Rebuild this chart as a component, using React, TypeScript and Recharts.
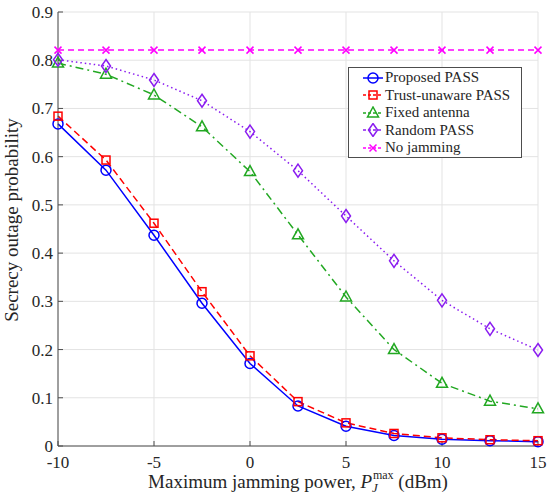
import React from "react";
import { LineChart, Line, XAxis, YAxis, CartesianGrid, Legend } from "recharts";

// jamming power levels (dBm)
const powerDbm = [-10, -7.5, -5, -2.5, 0, 2.5, 5, 7.5, 10, 12.5, 15];

// secrecy outage probability per scheme
const proposedPass = [0.668, 0.572, 0.437, 0.296, 0.171, 0.083, 0.041, 0.022, 0.014, 0.011, 0.009];
const trustUnawarePass = [0.684, 0.593, 0.462, 0.32, 0.187, 0.092, 0.048, 0.026, 0.017, 0.013, 0.011];
const fixedAntenna = [0.794, 0.771, 0.728, 0.662, 0.569, 0.438, 0.309, 0.2, 0.13, 0.093, 0.077];
const randomPass = [0.801, 0.788, 0.759, 0.716, 0.652, 0.571, 0.477, 0.384, 0.302, 0.243, 0.199];
const noJamming = [0.821, 0.821, 0.821, 0.821, 0.821, 0.821, 0.821, 0.821, 0.821, 0.821, 0.821];

const xTicks = [-10, -5, 0, 5, 10, 15];
const yTicks = [0, 0.1, 0.2, 0.3, 0.4, 0.5, 0.6, 0.7, 0.8, 0.9];

type MarkerKind = "circle" | "square" | "triangle" | "diamond" | "cross";

type SeriesDef = {
  key: string;
  name: string;
  color: string;
  dash?: string;
  marker: MarkerKind;
};

const SERIES: SeriesDef[] = [
  { key: "proposed", name: "Proposed PASS", color: "#0000ff", marker: "circle" },
  { key: "trustUnaware", name: "Trust-unaware PASS", color: "#ff0000", dash: "7 4", marker: "square" },
  { key: "fixed", name: "Fixed antenna", color: "#22a822", dash: "8 4 2 4", marker: "triangle" },
  { key: "random", name: "Random PASS", color: "#8a1cf0", dash: "1.5 3", marker: "diamond" },
  { key: "noJam", name: "No jamming", color: "#ff00ff", dash: "6 4", marker: "cross" },
];

const rows = powerDbm.map((x, i) => ({
  x,
  proposed: proposedPass[i],
  trustUnaware: trustUnawarePass[i],
  fixed: fixedAntenna[i],
  random: randomPass[i],
  noJam: noJamming[i],
}));

const FONT = "Liberation Serif, DejaVu Serif, serif";
const TEXT = "#262626";
const AXIS = "#4d4d4d";

function marker(kind: MarkerKind, cx: number, cy: number, color: string, key?: string) {
  const common = { fill: "none", stroke: color, strokeWidth: 1.5 };
  switch (kind) {
    case "circle":
      return <circle key={key} cx={cx} cy={cy} r={5} {...common} />;
    case "square":
      return <rect key={key} x={cx - 4} y={cy - 4} width={8} height={8} {...common} />;
    case "triangle":
      return (
        <polygon
          key={key}
          points={`${cx},${cy - 6} ${cx - 5.5},${cy + 4} ${cx + 5.5},${cy + 4}`}
          {...common}
        />
      );
    case "diamond":
      return (
        <polygon
          key={key}
          points={`${cx},${cy - 6.5} ${cx + 4.5},${cy} ${cx},${cy + 6.5} ${cx - 4.5},${cy}`}
          {...common}
        />
      );
    default:
      return (
        <path
          key={key}
          d={`M${cx - 3.5},${cy - 3.5}L${cx + 3.5},${cy + 3.5}M${cx - 3.5},${cy + 3.5}L${cx + 3.5},${cy - 3.5}`}
          {...common}
        />
      );
  }
}

function renderLegend() {
  return (
    <div
      style={{
        boxSizing: "border-box",
        width: 174,
        height: 91,
        border: `1px solid ${AXIS}`,
        background: "#fff",
        padding: "1px 0 0 14px",
        fontFamily: FONT,
        fontSize: 15,
        color: TEXT,
      }}
    >
      {SERIES.map((s) => (
        <div key={s.key} style={{ display: "flex", alignItems: "center", height: 17.5 }}>
          <svg width={20} height={14} style={{ marginRight: 2 }}>
            <line
              x1={0}
              y1={7}
              x2={20}
              y2={7}
              stroke={s.color}
              strokeWidth={1.5}
              strokeDasharray={s.dash ? "3 2" : undefined}
            />
            {marker(s.marker, 10, 7, s.color)}
          </svg>
          <span style={{ whiteSpace: "nowrap" }}>{s.name}</span>
        </div>
      ))}
    </div>
  );
}

function XLabel(props: any) {
  const { x, y, width } = props.viewBox;
  return (
    <text x={x + width / 2} y={y + 42} textAnchor="middle" fontFamily={FONT} fontSize={19} fill={TEXT}>
      Maximum jamming power,{" "}
      <tspan fontStyle="italic">P</tspan>
      <tspan fontStyle="italic" fontSize={13} dy={4}>
        J
      </tspan>
      <tspan fontSize={12} dx={-5} dy={-13}>
        max
      </tspan>
      <tspan dy={9}> (dBm)</tspan>
    </text>
  );
}

function YLabel() {
  return (
    <text
      x={17.5}
      y={220}
      transform="rotate(-90, 17.5, 220)"
      textAnchor="middle"
      fontFamily={FONT}
      fontSize={19}
      fill={TEXT}
    >
      Secrecy outage probability
    </text>
  );
}

const tickStyle = { fontFamily: FONT, fontSize: 17, fill: TEXT };

export default function App() {
  return (
    <div style={{ width: 550, height: 499, background: "#fff", fontFamily: FONT }}>
      <style>{"body{margin:0}"}</style>
      <LineChart width={550} height={499} data={rows} margin={{ top: 12, right: 12, bottom: 0, left: 0 }}>
        <CartesianGrid stroke="#e3e3e3" strokeWidth={1} />
        <XAxis
          dataKey="x"
          type="number"
          domain={[-10, 15]}
          ticks={xTicks}
          height={53}
          stroke={AXIS}
          tickSize={-5}
          tickMargin={15}
          tick={tickStyle}
          label={XLabel}
        />
        <XAxis
          xAxisId="top"
          orientation="top"
          type="number"
          domain={[-10, 15]}
          ticks={xTicks}
          height={0}
          stroke={AXIS}
          tickSize={-5}
          tickFormatter={() => ""}
        />
        <YAxis
          type="number"
          domain={[0, 0.9]}
          ticks={yTicks}
          width={58}
          stroke={AXIS}
          tickSize={-5}
          tickMargin={10}
          tick={tickStyle}
          tickFormatter={(v: number) => (v === 0 ? "0" : v.toFixed(1))}
          label={YLabel}
        />
        <YAxis
          yAxisId="right"
          orientation="right"
          type="number"
          domain={[0, 0.9]}
          ticks={yTicks}
          width={0}
          stroke={AXIS}
          tickSize={-5}
          tickFormatter={() => ""}
        />
        <Legend
          layout="vertical"
          align="center"
          verticalAlign="middle"
          content={renderLegend}
          wrapperStyle={{ left: 348, top: 67, width: 174, height: 91 }}
        />
        {SERIES.map((s) => (
          <Line
            key={s.key}
            dataKey={s.key}
            name={s.name}
            type="linear"
            stroke={s.color}
            strokeWidth={1.5}
            strokeDasharray={s.dash}
            isAnimationActive={false}
            dot={(p: any) => marker(s.marker, p.cx, p.cy, s.color, `${s.key}-${p.index}`)}
            activeDot={false}
          />
        ))}
      </LineChart>
    </div>
  );
}
